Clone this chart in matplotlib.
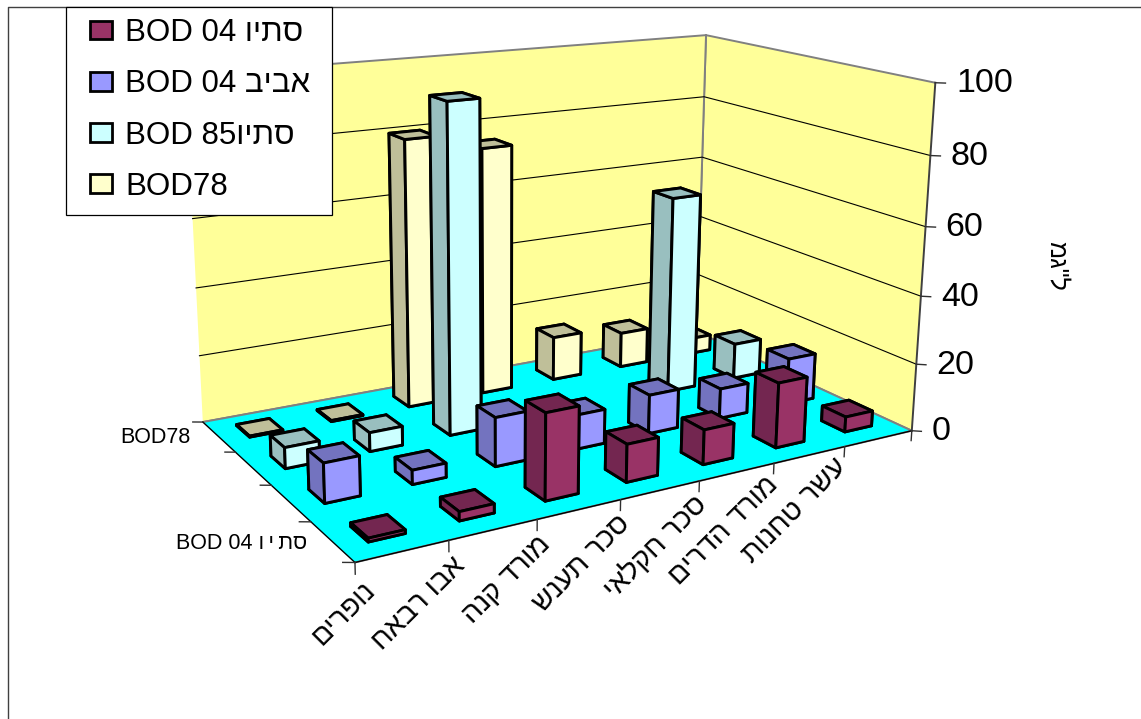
import numpy as np
import matplotlib
matplotlib.use("Agg")
import matplotlib.pyplot as plt
from matplotlib.patches import Patch, Rectangle
from matplotlib.lines import Line2D
from mpl_toolkits.mplot3d import proj3d

plt.rcParams['font.family'] = ['Liberation Sans', 'DejaVu Sans']


def visual(text):
    # matplotlib lays glyphs out left to right, so Hebrew runs are reversed
    return text[::-1]


categories = ["נופרים", "אבו רבאח", "מורד קנה", "סכר תענש", "סכר חקלאי", "מורד הדרים", "עשר טחנות"]
series_names = ["BOD 04 " + visual("סתיו"), "BOD 04 " + visual("אביב"), "BOD 85" + visual("סתיו"), "BOD78"]
autumn04 = [1, 2.5, 24, 10.7, 10, 19, 4.5]
spring04 = [11, 4, 14, 10, 11.5, 9, 14]
autumn85 = [6, 5.5, 95, None, None, 60, 11]
bod78 = [0.3, 0.3, 80, 75, 13.5, 11, 5]
series_values = [autumn04, spring04, autumn85, bod78]
value_ticks = [0, 20, 40, 60, 80, 100]
light = ['#993366', '#9999FF', '#CCFFFF', '#FFFFCC']
dark = ['#732650', '#7373BF', '#99BFBF', '#BFBF99']

W, H = 1141, 719
fig = plt.figure(figsize=(W/100, H/100), dpi=100)
ax = fig.add_subplot(projection='3d', computed_zorder=False)
ax.set_xlim(0, 7, view_margin=0)
ax.set_ylim(0, 4, view_margin=0)
ax.set_zlim(0, 100, view_margin=0)

# Camera and box proportions
ax.view_init(15.2710, -120.8782, -0.4819)
ax.set_box_aspect((np.exp(0.5466), np.exp(0.0564), 1.0), zoom=np.exp(-0.2367))
ax.set_proj_type('persp', focal_length=np.exp(-1.1642))
S = 1000.0
cx, cy = 544.4515, 271.05
ax.set_position([(cx-S/2)/W, 1-(cy+S/2)/H, S/W, S/H])


def label(x, y, z, text, **kw):
    # Flat text anchored at a projected 3D location
    px, py, _ = proj3d.proj_transform(x, y, z, ax.get_proj())
    return ax.text2D(px, py, text, transform=ax.transData, zorder=100, **kw)


ax.set_xticks([]); ax.set_yticks([]); ax.set_zticks([])
ax.grid(False)
ax.xaxis.set_pane_color('#FFFF99'); ax.yaxis.set_pane_color('#FFFF99'); ax.zaxis.set_pane_color('#00FFFF')
for a in (ax.xaxis, ax.yaxis, ax.zaxis):
    a.line.set_color((0, 0, 0, 0))
    a.pane.set_edgecolor('#808080')
    a.pane.set_linewidth(1.4)
    a.pane.set_alpha(1)

# Wall gridlines
for v in value_ticks[1:-1]:
    ax.plot([0, 7, 7], [4, 4, 0], [v, v, v], color='k', lw=0.8, zorder=0.5)

# Floor edges and the value axis
ax.plot([0, 0], [4, 0], [0, 0], color='k', lw=1.0, zorder=0.6)
ax.plot([0, 7], [0, 0], [0, 0], color='k', lw=1.0, zorder=0.6)
ax.plot([7, 7], [0, 0], [0, 100], color='#404040', lw=1.4, zorder=0.6)

# Tick marks and value labels
for v in value_ticks:
    ax.plot([7, 7.083], [0, -0.065], [v, v], color='#303030', lw=1.0, zorder=0.6)
    label(7.17, -0.13, v, str(v), fontsize=24.5, ha='left', va='center')
for j in range(5):
    ax.plot([0, -0.1], [j, j+0.055], [0, 0], color='#303030', lw=1.0, zorder=0.6)
for i in range(8):
    ax.plot([i, i], [0, 0], [0, -3], color='#303030', lw=1.0, zorder=0.6)

# Bars, drawn from the back row forward
z = 1
for s in range(3, -1, -1):
    for i in range(7):
        v = series_values[s][i]
        if v is None:
            continue
        cols = [dark[s], dark[s], light[s], light[s], dark[s], light[s]]
        ax.bar3d(i+0.30, s+0.33, 0, 0.40, 0.39, v, color=cols, shade=False,
                 edgecolor='k', linewidth=2.1, zorder=z)
        z += 1

# Axis labels
for i, name in enumerate(categories):
    label(i*0.97+0.17, 0, -7+0.35*i, visual(name), fontsize=20.5, rotation=45,
          rotation_mode='anchor', ha='right', va='center')
label(-0.15, 4, -3.9, "BOD78", fontsize=15.5, ha='right', va='center')
label(-0.48, 0, 7.6, "BOD 04 ו\u2009י\u2009תס", fontsize=15.5, ha='right', va='center')
fig.text(1057/W, 1-266/H, 'מג"ל', fontsize=18, rotation=270, ha='center', va='center')

# Chart-area border, running off the right and bottom edges
fig.add_artist(Line2D([8/W, 8/W, 1.0], [0, 1-7/H, 1-7/H], color='#404040', lw=1.0))

# Legend box with its entries on top
box = Rectangle((65.5/W, 1-214.5/H), 266.5/W, 207.5/H, transform=fig.transFigure,
                facecolor='white', edgecolor='k', linewidth=0.9, zorder=9)
fig.add_artist(box)
handles = [Patch(facecolor=c, edgecolor='k', linewidth=2.0) for c in light]
leg = fig.legend(handles, series_names, loc='upper left', bbox_to_anchor=(90/W, 1-18/H),
                 borderaxespad=0, borderpad=0, fontsize=22.5, frameon=False,
                 handlelength=0.7, handleheight=0.55, handletextpad=0.42, labelspacing=0.68)
leg.set_zorder(10)

fig.savefig("out.png", dpi=100)
